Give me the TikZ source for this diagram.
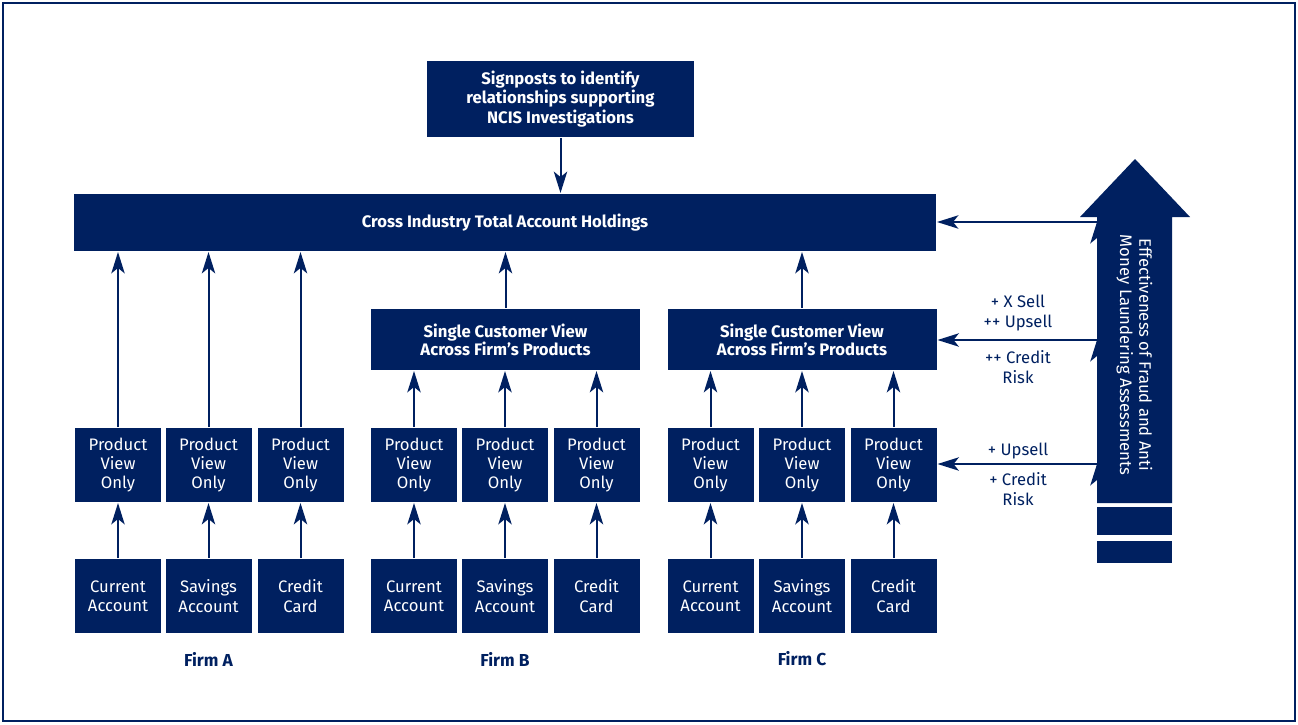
\documentclass[tikz,border=0pt]{standalone}
\usepackage{fontspec}
\setmainfont{Fira Sans}
\usetikzlibrary{arrows.meta,positioning}
\definecolor{navy}{RGB}{0,32,96}

\begin{document}
\begin{tikzpicture}[x=0.75pt, y=-0.75pt, >={Stealth[width=10pt,length=16pt,inset=4pt]}, line width=1.5pt, draw=navy,
	box/.style={fill=navy, text=white, inner sep=0pt, align=center, font=\fontsize{12.5}{14.5}\selectfont},
	pv/.style={box, minimum width=64.5pt, minimum height=55.5pt},
	scv/.style={box, font=\fontsize{12.5}{13.5}\selectfont\bfseries, minimum width=201.75pt, minimum height=45.75pt},
	note/.style={text=navy, align=center, inner sep=0pt, font=\fontsize{12.5}{14.5}\selectfont},
	firm/.style={text=navy, font=\fontsize{13}{14}\selectfont\bfseries}]
	\useasboundingbox (0,0) rectangle (1298,724);
	\draw[navy, line width=1.6pt] (3,3) rectangle (1295,721);
	\draw (560.5, 99.0)node[box, font=\fontsize{12.5}{14.5}\selectfont\bfseries, minimum width=200.25pt, minimum height=57pt](sign){Signposts to identify\\relationships supporting\\NCIS Investigations};
	\draw (505.0, 222.5)node[box, font=\fontsize{12.5}{13}\selectfont\bfseries, minimum width=646.5pt, minimum height=42.75pt](total){Cross Industry Total Account Holdings};
	\draw (505.5, 339.5)node[scv](scvB){Single Customer View\\Across Firm's Products};
	\draw (802.0, 339.5)node[scv](scvC){Single Customer View\\Across Firm's Products};
	\draw (118.0, 465.0)node[pv](pvA1){Product\\View\\Only};
	\draw (208.5, 465.0)node[pv](pvA2){Product\\View\\Only};
	\draw (300.5, 465.0)node[pv](pvA3){Product\\View\\Only};
	\draw (414.0, 465.0)node[pv](pvB1){Product\\View\\Only};
	\draw (505.0, 465.0)node[pv](pvB2){Product\\View\\Only};
	\draw (596.5, 465.0)node[pv](pvB3){Product\\View\\Only};
	\draw (710.5, 465.0)node[pv](pvC1){Product\\View\\Only};
	\draw (802.0, 465.0)node[pv](pvC2){Product\\View\\Only};
	\draw (893.5, 465.0)node[pv](pvC3){Product\\View\\Only};
	\draw (118.0, 596.0)node[pv](acA1){Current\\Account};
	\draw (208.5, 596.0)node[pv](acA2){Savings\\Account};
	\draw (300.5, 596.0)node[pv](acA3){Credit\\Card};
	\draw (414.0, 596.0)node[pv](acB1){Current\\Account};
	\draw (505.0, 596.0)node[pv](acB2){Savings\\Account};
	\draw (596.5, 596.0)node[pv](acB3){Credit\\Card};
	\draw (710.5, 596.0)node[pv](acC1){Current\\Account};
	\draw (802.0, 596.0)node[pv](acC2){Savings\\Account};
	\draw (893.5, 596.0)node[pv](acC3){Credit\\Card};
	\draw (208.5, 659.0)node[firm](firmA){Firm A};
	\draw (505.0, 659.0)node[firm](firmB){Firm B};
	\draw (802.0, 659.0)node[firm](firmC){Firm C};
	\fill[navy] (1097,503) -- (1097,217) -- (1080,217) -- (1135,159) -- (1190,217) -- (1172,217) -- (1172,503) -- cycle;
	\fill[navy] (1097,507) rectangle (1172,535);
	\fill[navy] (1097,541) rectangle (1172,563);
	\draw (1134.5, 355.0)node[note, text=white, rotate=-90](effect){Effectiveness of Fraud and Anti\\Money Laundering Assessments};
	\coordinate (src1) at (1097, 222);
	\coordinate (src2) at (1097, 340);
	\coordinate (src3) at (1097, 464);
	\draw (1018.0, 313.0)node[note](n1){+ X Sell\\++ Upsell};
	\draw (1018.0, 367.0)node[note](n2){++ Credit\\Risk};
	\draw (1018.0, 451.0)node[note](n3){+ Upsell};
	\draw (1018.0, 489.0)node[note](n4){+ Credit\\Risk};
	\path[->, draw=navy] (sign) edge (sign |- total.north);
	\path[->, draw=navy] (src1) edge (src1 -| total.east);
	\path[->, draw=navy] (src2) edge (src2 -| scvC.east);
	\path[->, draw=navy] (src3) edge (src3 -| pvC3.east);
	\path[->, draw=navy] (pvA1) edge (pvA1 |- total.south);
	\path[->, draw=navy] (pvA2) edge (pvA2 |- total.south);
	\path[->, draw=navy] (pvA3) edge (pvA3 |- total.south);
	\path[->, draw=navy] (scvB) edge (scvB |- total.south);
	\path[->, draw=navy] (scvC) edge (scvC |- total.south);
	\path[->, draw=navy] (pvB1) edge (pvB1 |- scvB.south);
	\path[->, draw=navy] (pvB2) edge (pvB2 |- scvB.south);
	\path[->, draw=navy] (pvB3) edge (pvB3 |- scvB.south);
	\path[->, draw=navy] (pvC1) edge (pvC1 |- scvC.south);
	\path[->, draw=navy] (pvC2) edge (pvC2 |- scvC.south);
	\path[->, draw=navy] (pvC3) edge (pvC3 |- scvC.south);
	\path[->, draw=navy] (acA1) edge (pvA1);
	\path[->, draw=navy] (acA2) edge (pvA2);
	\path[->, draw=navy] (acA3) edge (pvA3);
	\path[->, draw=navy] (acB1) edge (pvB1);
	\path[->, draw=navy] (acB2) edge (pvB2);
	\path[->, draw=navy] (acB3) edge (pvB3);
	\path[->, draw=navy] (acC1) edge (pvC1);
	\path[->, draw=navy] (acC2) edge (pvC2);
	\path[->, draw=navy] (acC3) edge (pvC3);
\end{tikzpicture}
\end{document}
